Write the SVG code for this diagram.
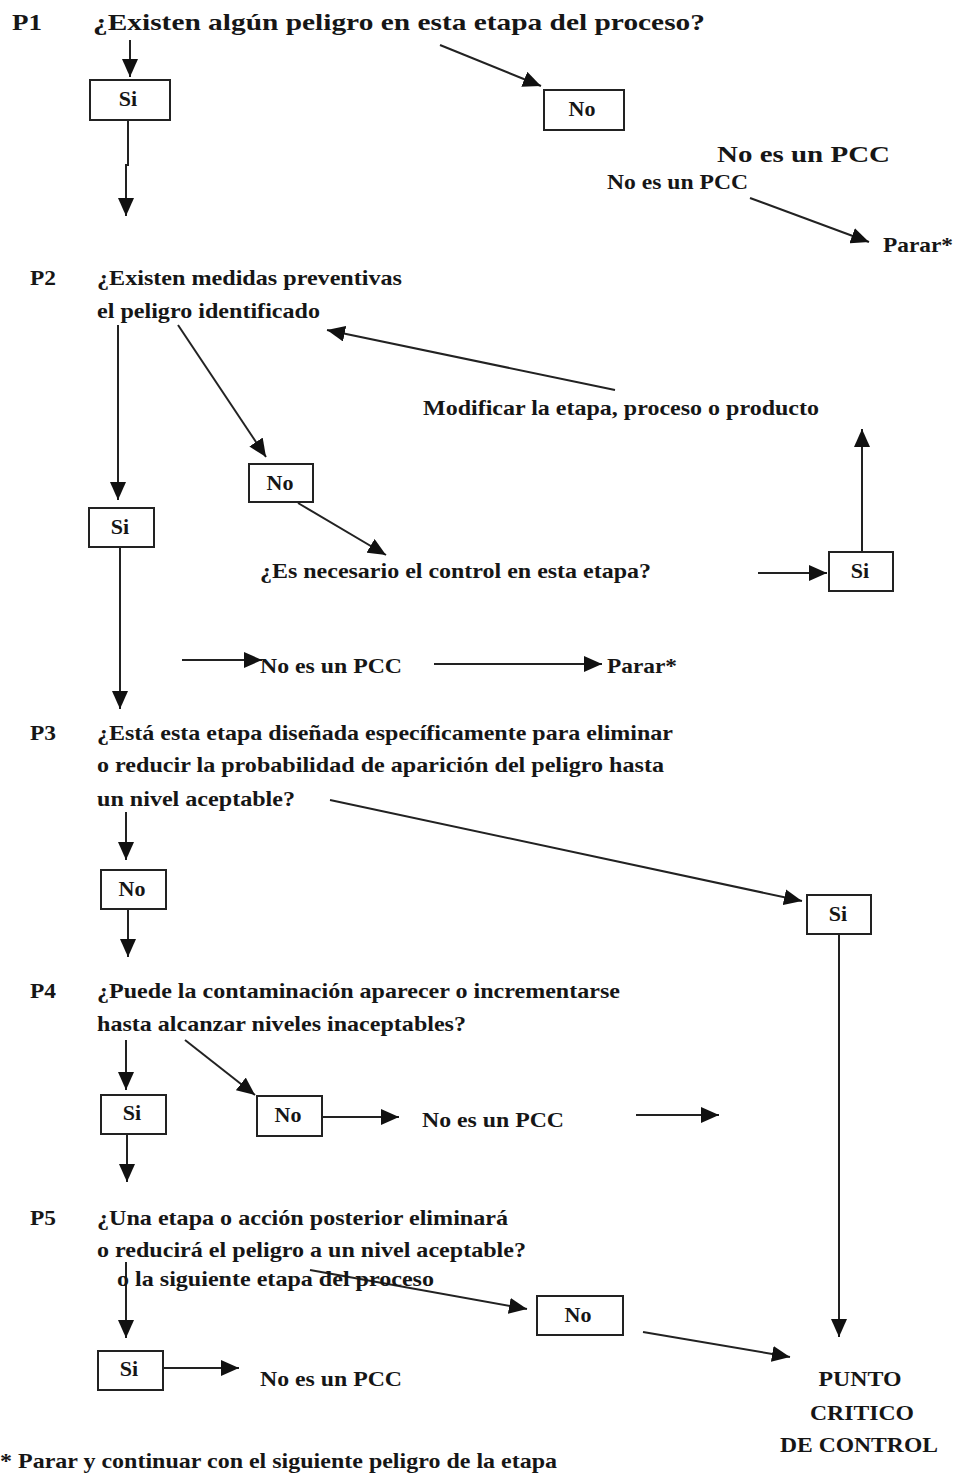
<svg xmlns="http://www.w3.org/2000/svg" width="955" height="1473" viewBox="0 0 955 1473">
  <defs>
    <marker id="ah" viewBox="0 0 18 16" refX="18" refY="8" markerWidth="18" markerHeight="16" markerUnits="userSpaceOnUse" orient="auto">
      <path d="M0,0 L18,8 L0,16 Z" fill="#111"/>
    </marker>
    <style>
      text { font-family: "Liberation Serif", "Times New Roman", serif; font-weight: bold; fill: #161616; }
      .q { font-size: 23px; }
      .l { font-size: 22px; }
      .b { font-size: 22px; text-anchor: middle; }
      .box { fill: #fff; stroke: #222; stroke-width: 2; }
      .c line, .c polyline { stroke: #222; stroke-width: 2; fill: none; }
      .c .a { marker-end: url(#ah); }
    </style>
  </defs>
  <rect width="955" height="1473" fill="#fff"/>

  <!-- connectors -->
  <g class="c" id="connectors">
    <!-- P1 -->
    <line class="a" x1="130" y1="40" x2="130" y2="77"/>
    <polyline class="a" points="128,120 128,165 126,165 126,216"/>
    <line class="a" x1="440" y1="45" x2="541" y2="86"/>
    <line class="a" x1="750" y1="198" x2="869" y2="242"/>
    <!-- P2 -->
    <line class="a" x1="118" y1="325" x2="118" y2="500"/>
    <line class="a" x1="178" y1="325" x2="266" y2="457"/>
    <line class="a" x1="298" y1="503" x2="386" y2="555"/>
    <line class="a" x1="615" y1="390" x2="327" y2="330"/>
    <line class="a" x1="758" y1="573" x2="827" y2="573"/>
    <line class="a" x1="862" y1="551" x2="862" y2="429"/>
    <line class="a" x1="120" y1="547" x2="120" y2="709"/>
    <line class="a" x1="182" y1="660" x2="262" y2="660"/>
    <line class="a" x1="434" y1="664" x2="602" y2="664"/>
    <!-- P3 -->
    <line class="a" x1="126" y1="812" x2="126" y2="860"/>
    <line class="a" x1="128" y1="909" x2="128" y2="957"/>
    <line class="a" x1="330" y1="800" x2="802" y2="901"/>
    <line class="a" x1="839" y1="934" x2="839" y2="1337"/>
    <!-- P4 -->
    <line class="a" x1="126" y1="1040" x2="126" y2="1090"/>
    <line class="a" x1="185" y1="1040" x2="255" y2="1095"/>
    <line class="a" x1="322" y1="1117" x2="399" y2="1117"/>
    <line class="a" x1="636" y1="1115" x2="719" y2="1115"/>
    <line class="a" x1="127" y1="1134" x2="127" y2="1182"/>
    <!-- P5 -->
    <line class="a" x1="126" y1="1262" x2="126" y2="1338"/>
    <line class="a" x1="163" y1="1368" x2="239" y2="1368"/>
    <line class="a" x1="310" y1="1270" x2="527" y2="1309"/>
    <line class="a" x1="643" y1="1332" x2="790" y2="1357"/>
  </g>

  <!-- P1 -->
  <g id="p1">
    <text class="q" x="12" y="30" textLength="30" lengthAdjust="spacingAndGlyphs">P1</text>
    <text class="q" x="93" y="30" textLength="612" lengthAdjust="spacingAndGlyphs">¿Existen algún peligro en esta etapa del proceso?</text>
  </g>
  <g id="p1-si"><rect class="box" x="90" y="80" width="80" height="40"/><text class="b" x="128" y="106">Si</text></g>
  <g id="p1-no"><rect class="box" x="544" y="90" width="80" height="40"/><text class="b" x="582" y="116">No</text></g>
  <g id="p1-nopcc">
    <text x="717" y="162" font-size="24" textLength="173" lengthAdjust="spacingAndGlyphs">No es un PCC</text>
    <text class="l" x="607" y="189" textLength="141" lengthAdjust="spacingAndGlyphs">No es un PCC</text>
  </g>
  <g id="p1-parar"><text class="l" x="883" y="252" textLength="70" lengthAdjust="spacingAndGlyphs">Parar*</text></g>

  <!-- P2 -->
  <g id="p2">
    <text class="l" x="30" y="285" textLength="26" lengthAdjust="spacingAndGlyphs">P2</text>
    <text class="l" x="97" y="285" textLength="305" lengthAdjust="spacingAndGlyphs">¿Existen medidas preventivas</text>
    <text class="l" x="97" y="318" textLength="223" lengthAdjust="spacingAndGlyphs">el peligro identificado</text>
  </g>
  <g id="p2-no"><rect class="box" x="249" y="464" width="64" height="38"/><text class="b" x="280" y="490">No</text></g>
  <g id="p2-si"><rect class="box" x="89" y="508" width="65" height="39"/><text class="b" x="120" y="534">Si</text></g>
  <g id="p2-control"><text class="l" x="260" y="578" textLength="391" lengthAdjust="spacingAndGlyphs">¿Es necesario el control en esta etapa?</text></g>
  <g id="p2-si2"><rect class="box" x="829" y="552" width="64" height="39"/><text class="b" x="860" y="578">Si</text></g>
  <g id="p2-modificar"><text class="l" x="423" y="415" textLength="396" lengthAdjust="spacingAndGlyphs">Modificar la etapa, proceso o producto</text></g>
  <g id="p2-nopcc"><text class="l" x="260" y="673" textLength="142" lengthAdjust="spacingAndGlyphs">No es un PCC</text></g>
  <g id="p2-parar"><text class="l" x="607" y="673" textLength="70" lengthAdjust="spacingAndGlyphs">Parar*</text></g>

  <!-- P3 -->
  <g id="p3">
    <text class="l" x="30" y="740" textLength="26" lengthAdjust="spacingAndGlyphs">P3</text>
    <text class="l" x="97" y="740" textLength="576" lengthAdjust="spacingAndGlyphs">¿Está esta etapa diseñada específicamente para eliminar</text>
    <text class="l" x="97" y="772" textLength="567" lengthAdjust="spacingAndGlyphs">o reducir la probabilidad de aparición del peligro hasta</text>
    <text class="l" x="97" y="806" textLength="198" lengthAdjust="spacingAndGlyphs">un nivel aceptable?</text>
  </g>
  <g id="p3-no"><rect class="box" x="101" y="870" width="65" height="39"/><text class="b" x="132" y="896">No</text></g>
  <g id="p3-si"><rect class="box" x="807" y="895" width="64" height="39"/><text class="b" x="838" y="921">Si</text></g>

  <!-- P4 -->
  <g id="p4">
    <text class="l" x="30" y="998" textLength="26" lengthAdjust="spacingAndGlyphs">P4</text>
    <text class="l" x="97" y="998" textLength="523" lengthAdjust="spacingAndGlyphs">¿Puede la contaminación aparecer o incrementarse</text>
    <text class="l" x="97" y="1031" textLength="369" lengthAdjust="spacingAndGlyphs">hasta alcanzar niveles inaceptables?</text>
  </g>
  <g id="p4-si"><rect class="box" x="101" y="1095" width="65" height="39"/><text class="b" x="132" y="1120">Si</text></g>
  <g id="p4-no"><rect class="box" x="257" y="1096" width="65" height="40"/><text class="b" x="288" y="1122">No</text></g>
  <g id="p4-nopcc"><text class="l" x="422" y="1127" textLength="142" lengthAdjust="spacingAndGlyphs">No es un PCC</text></g>

  <!-- P5 -->
  <g id="p5">
    <text class="l" x="30" y="1225" textLength="26" lengthAdjust="spacingAndGlyphs">P5</text>
    <text class="l" x="97" y="1225" textLength="411" lengthAdjust="spacingAndGlyphs">¿Una etapa o acción posterior eliminará</text>
    <text class="l" x="97" y="1257" textLength="429" lengthAdjust="spacingAndGlyphs">o reducirá el peligro a un nivel aceptable?</text>
    <text class="l" x="117" y="1286" textLength="317" lengthAdjust="spacingAndGlyphs">o la siguiente etapa del proceso</text>
  </g>
  <g id="p5-si"><rect class="box" x="98" y="1351" width="65" height="39"/><text class="b" x="129" y="1376">Si</text></g>
  <g id="p5-nopcc"><text class="l" x="260" y="1386" textLength="142" lengthAdjust="spacingAndGlyphs">No es un PCC</text></g>
  <g id="p5-no"><rect class="box" x="537" y="1296" width="86" height="39"/><text class="b" x="578" y="1322">No</text></g>

  <!-- result -->
  <g id="pcc">
    <text class="b" x="860" y="1386" textLength="83" lengthAdjust="spacingAndGlyphs">PUNTO</text>
    <text class="b" x="862" y="1420" textLength="104" lengthAdjust="spacingAndGlyphs">CRITICO</text>
    <text class="b" x="859" y="1452" textLength="158" lengthAdjust="spacingAndGlyphs">DE CONTROL</text>
  </g>

  <!-- footnote -->
  <g id="footnote"><text class="l" x="0" y="1468" textLength="557" lengthAdjust="spacingAndGlyphs">* Parar y continuar con el siguiente peligro de la etapa</text></g>
</svg>
